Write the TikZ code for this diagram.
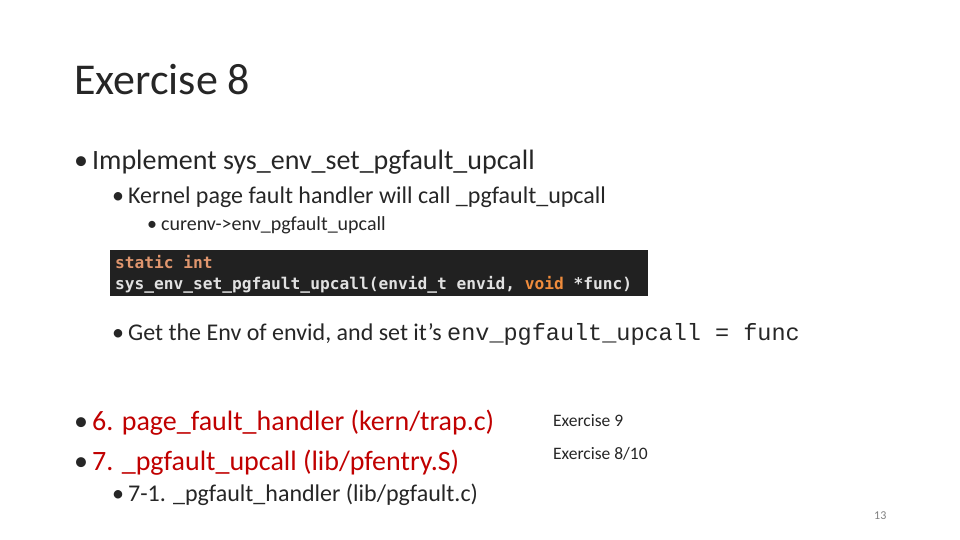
\documentclass[tikz,border=0pt]{standalone}
\usepackage{fontspec}
\setmainfont{Carlito}
\newfontfamily\codefont{DejaVu Sans Mono}
\newfontfamily\cour{Liberation Mono}
\definecolor{slidered}{RGB}{192,0,0}
\definecolor{codebg}{RGB}{33,33,33}
\definecolor{kw}{RGB}{224,150,110}
\definecolor{kwo}{RGB}{240,140,60}
\definecolor{codefg}{RGB}{225,225,225}
\definecolor{txt}{RGB}{38,38,38}
\begin{document}
\begin{tikzpicture}[x=1pt,y=-1pt,
  t/.style={anchor=base west,inner sep=0pt,text=txt},
  l1/.style={t,font=\fontsize{28}{32}\selectfont},
  l2/.style={t,font=\fontsize{24}{28}\selectfont},
  l3/.style={t,font=\fontsize{20}{24}\selectfont},
  cd/.style={anchor=base west,inner sep=0pt,font=\codefont\bfseries\fontsize{16.2}{20}\selectfont,text=codefg}]
\useasboundingbox (0,0) rectangle (960,540);
\node[t,font=\fontsize{44}{48}\selectfont] (title) at (74,95) {Exercise 8};
\node[l1] (b1) at (74,170) {•\hspace{4pt}Implement sys\_env\_set\_pgfault\_upcall};
\node[l2] (b2) at (112,203) {•\hspace{4pt}Kernel page fault handler will call \_pgfault\_upcall};
\node[l3] (b3) at (147,230) {•\hspace{4pt}curenv->env\_pgfault\_upcall};
\fill[codebg] (110,250) rectangle (648,296);
\node[cd,text=kw] (c1) at (115,268) {static int};
\node[cd] (c2) at (115,289) {sys\_env\_set\_pgfault\_upcall(envid\_t envid, \textcolor{kwo}{void} *func)};
\node[l2] (b4) at (112,340) {•\hspace{4pt}Get the Env of envid, and set it’s {\cour\fontsize{23.5}{26}\selectfont env\_pgfault\_upcall = func}};
\node[l1,text=slidered] (b5) at (74,430) {\textcolor{txt}{•}\hspace{4pt}6. page\_fault\_handler (kern/trap.c)};
\node[l1,text=slidered] (b6) at (74,470) {\textcolor{txt}{•}\hspace{4pt}7. \_pgfault\_upcall (lib/pfentry.S)};
\node[l2] (b7) at (112,501) {•\hspace{4pt}7-1. \_pgfault\_handler (lib/pgfault.c)};
\node[t,font=\fontsize{17.5}{20}\selectfont] (e9) at (553,426) {Exercise 9};
\node[t,font=\fontsize{17.5}{20}\selectfont] (e8) at (553,459) {Exercise 8/10};
\node[t,font=\fontsize{12}{14}\selectfont,text=gray] (pg) at (874,519) {13};
\end{tikzpicture}
\end{document}
